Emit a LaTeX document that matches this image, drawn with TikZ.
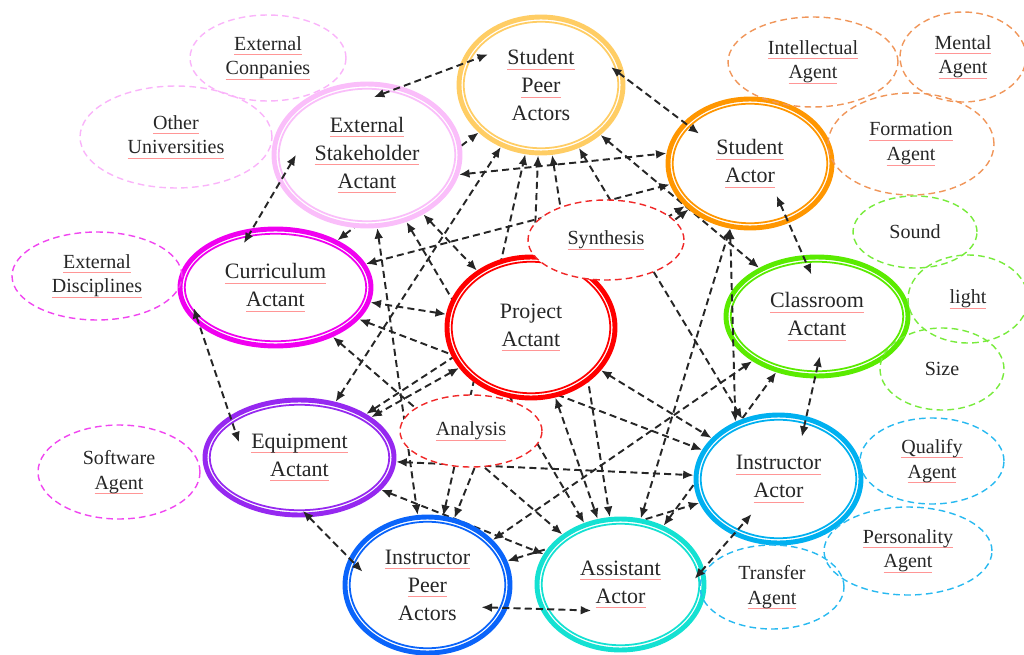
\documentclass[tikz,border=0pt]{standalone}
\usepackage{fontspec}
\setmainfont{Liberation Serif}
\usetikzlibrary{shapes.geometric,arrows.meta,backgrounds}

% ring colours of the actors and actants
\definecolor{peergold}{RGB}{255,205,100}
\definecolor{studorange}{RGB}{255,150,0}
\definecolor{stakepink}{RGB}{250,190,250}
\definecolor{currmagenta}{RGB}{240,0,240}
\definecolor{projred}{RGB}{255,0,0}
\definecolor{roomgreen}{RGB}{90,235,0}
\definecolor{equipviolet}{RGB}{150,40,240}
\definecolor{instrsky}{RGB}{0,176,240}
\definecolor{peerblue}{RGB}{10,100,250}
\definecolor{assistcyan}{RGB}{20,225,210}
% dashed agent outlines
\definecolor{agentpink}{RGB}{250,180,250}
\definecolor{agentmagenta}{RGB}{240,70,240}
\definecolor{agentorange}{RGB}{240,150,90}
\definecolor{agentgreen}{RGB}{120,235,60}
\definecolor{agentblue}{RGB}{40,185,240}
\definecolor{agentred}{RGB}{240,40,40}
\definecolor{squiggle}{RGB}{255,150,150}

% word with the thin red line under it
\newcommand{\sq}[1]{\setbox0\hbox{#1}\rlap{\color{squiggle}\rule[-2.8pt]{\wd0}{0.5pt}}\box0}

\begin{document}
\begin{tikzpicture}[x=0.02cm,y=-0.02cm,
  actant/.style={ellipse,draw=#1,fill=white,line width=2.8pt,inner sep=0pt,align=center,
    text=black!85,font=\fontsize{12.5}{15.9}\selectfont},
  agent/.style={ellipse,draw=#1,line width=0.8pt,dash pattern=on 3.8pt off 2.4pt,inner sep=0pt,
    align=center,text=black!85,font=\fontsize{11.4}{14.2}\selectfont},
  link/.style={black!85,line width=1.1pt,dash pattern=on 4pt off 2.4pt,
    {Latex[length=6pt,width=5pt]}-{Latex[length=6pt,width=5pt]}}]
\useasboundingbox (0,0) rectangle (1024,655);

% actors and actants, double rings
\node[actant=peergold,minimum width=3.28cm,minimum height=2.72cm] (sp) at (541,85) {\sq{Student}\\\sq{Peer}\\Actors};
\draw[peergold,line width=1pt] (sp.center) circle (1.545cm and 1.265cm);
\node[actant=studorange,minimum width=3.28cm,minimum height=2.58cm] (sa) at (750,163.5) {\sq{Student}\\\sq{Actor}};
\draw[studorange,line width=1pt] (sa.center) circle (1.545cm and 1.195cm);
\node[actant=stakepink,minimum width=3.72cm,minimum height=2.84cm] (es) at (367,155) {\sq{External}\\\sq{Stakeholder}\\\sq{Actant}};
\draw[stakepink,line width=1pt] (es.center) circle (1.765cm and 1.325cm);
\node[actant=currmagenta,minimum width=3.82cm,minimum height=2.34cm] (cu) at (275.5,287.5) {\sq{Curriculum}\\\sq{Actant}};
\draw[currmagenta,line width=1pt] (cu.center) circle (1.815cm and 1.075cm);
\node[actant=projred,minimum width=3.36cm,minimum height=2.82cm] (pj) at (531,327.5) {Project\\\sq{Actant}};
\draw[projred,line width=1pt] (pj.center) circle (1.585cm and 1.315cm);
\node[actant=roomgreen,minimum width=3.64cm,minimum height=2.38cm] (cl) at (817,316.5) {\sq{Classroom}\\\sq{Actant}};
\draw[roomgreen,line width=1pt] (cl.center) circle (1.725cm and 1.095cm);
\node[actant=equipviolet,minimum width=3.78cm,minimum height=2.30cm] (eq) at (299.5,457.5) {\sq{Equipment}\\\sq{Actant}};
\draw[equipviolet,line width=1pt] (eq.center) circle (1.795cm and 1.055cm);
\node[actant=instrsky,minimum width=3.30cm,minimum height=2.56cm] (ia) at (778.5,479) {\sq{Instructor}\\\sq{Actor}};
\draw[instrsky,line width=1pt] (ia.center) circle (1.555cm and 1.185cm);
\node[actant=peerblue,minimum width=3.30cm,minimum height=2.72cm] (ip) at (427.5,585) {\sq{Instructor}\\\sq{Peer}\\Actors};
\draw[peerblue,line width=1pt] (ip.center) circle (1.555cm and 1.265cm);
\node[actant=assistcyan,minimum width=3.34cm,minimum height=2.62cm] (as) at (620.5,584.5) {\sq{Assistant}\\\sq{Actor}};
\draw[assistcyan,line width=1pt] (as.center) circle (1.575cm and 1.215cm);

% agents round the rings
\node[agent=agentpink,minimum width=3.12cm,minimum height=1.72cm] (co) at (268,58) {\sq{External}\\\sq{Conpanies}};
\node[agent=agentpink,minimum width=3.84cm,minimum height=2.04cm] (un) at (176,137) {\sq{Other}\\\sq{Universities}};
\node[agent=agentmagenta,minimum width=3.40cm,minimum height=1.76cm] (ed) at (97,276) {\sq{External}\\\sq{Disciplines}};
\node[agent=agentmagenta,minimum width=3.24cm,minimum height=1.88cm] (sw) at (119,472) {Software\\\sq{Agent}};
\node[agent=agentorange,minimum width=3.40cm,minimum height=1.80cm] (in) at (813,62) {\sq{Intellectual}\\\sq{Agent}};
\node[agent=agentorange,minimum width=2.52cm,minimum height=1.80cm] (me) at (963,57) {\sq{Mental}\\\sq{Agent}};
\node[agent=agentorange,minimum width=3.32cm,minimum height=2.04cm] (fo) at (911,144) {\sq{Formation}\\\sq{Agent}};
\node[agent=agentgreen,minimum width=2.48cm,minimum height=1.44cm] (so) at (915,232) {Sound};
\node[agent=agentgreen,minimum width=2.40cm,minimum height=1.76cm] (li) at (968,299) {\sq{light}};
\node[agent=agentgreen,minimum width=2.48cm,minimum height=1.64cm] (si) at (942,369) {Size};
\node[agent=agentblue,minimum width=2.88cm,minimum height=1.72cm] (qu) at (932,461) {\sq{Qualify}\\\sq{Agent}};
\node[agent=agentblue,minimum width=3.36cm,minimum height=1.76cm] (pe) at (908,551) {\sq{Personality}\\\sq{Agent}};
\node[agent=agentblue,minimum width=2.88cm,minimum height=1.68cm] (tr) at (772,587) {Transfer\\\sq{Agent}};
\node[agent=agentred,fill=white,minimum width=3.12cm,minimum height=1.60cm] (sy) at (606,240) {\sq{Synthesis}};
\node[agent=agentred,fill=white,minimum width=2.84cm,minimum height=1.44cm] (an) at (471,431) {\sq{Analysis}};

% web of links behind the rings
\begin{scope}[on background layer]
\draw[link] (es.348) -- (sa.173);
\draw[link] (cu) -- (sa);
\draw[link] (eq) -- (sa);
\draw[link] (sp) -- (cl);
\draw[link] (sp) -- (ia);
\draw[link] (sp) -- (as);
\draw[link] (pj) -- (sp);
\draw[link] (ip) -- (sp);
\draw[link] (pj) -- (sa);
\draw[link] (as) -- (sa);
\draw[link] (as) -- (cl);
\draw[link] (es) -- (pj);
\draw[link] (es) -- (ip);
\draw[link] (pj) -- (ia);
\draw[link] (cu) -- (ia);
\draw[link] (eq) -- (ia);
\draw[link] (ip) -- (ia);
\draw[link] (pj) -- (as);
\draw[link] (pj) -- (ip);
\draw[link] (cu) -- (as);
\draw[link] (eq) -- (as);
\draw[link] (cl) -- (ip);
\draw[link] (pj) -- (cu);
\draw[link] (pj) -- (eq);
\draw[link] (es) -- (as);
\draw[link] (eq) -- (sp);
\draw[link] (cu) -- (sp);
\end{scope}

% links round the outside, over the rings
\draw[link,shorten <=-17pt,shorten >=-17pt] (es.63) -- (sp.166);
\draw[link,shorten <=-10pt,shorten >=-11pt] (sp.5) -- (sa.148);
\draw[link,shorten <=-19pt,shorten >=-10pt] (es.198) -- (cu.111);
\draw[link,shorten <=-17pt,shorten >=-12pt] (sa.303) -- (cl.103);
\draw[link,shorten <=-11pt,shorten >=-16pt] (cu.207) -- (eq.149);
\draw[link,shorten <=-13pt,shorten >=-12pt] (cl.268) -- (ia.66);
\draw[link,shorten <=-5pt,shorten >=-11pt] (eq.279) -- (ip.161);
\draw[link,shorten <=-15pt,shorten >=-29pt] (ip.344) -- (as.197);
\draw[link,shorten <=-8pt,shorten >=-16pt] (as.11) -- (ia.231);
\draw[link] (sa.253) -- (ia.127);
\end{tikzpicture}
\end{document}
